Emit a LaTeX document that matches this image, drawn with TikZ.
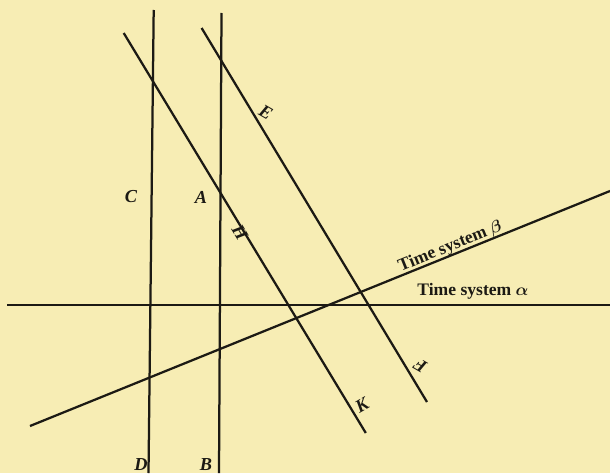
\documentclass[tikz,border=0pt]{standalone}
\usepackage{fontspec}
\setmainfont{Liberation Serif}
\usepackage{tikz}
\usetikzlibrary{positioning}
\definecolor{paper}{HTML}{F7EDB4}
\definecolor{ink}{HTML}{1C1A14}
\tikzset{
  worldline/.style={ink,line width=1.6pt},
  letter/.style={font=\fontsize{13}{15}\selectfont\bfseries\itshape,text=ink,inner sep=1pt},
  systemlabel/.style={font=\fontsize{12.5}{15}\selectfont\bfseries\boldmath,text=ink,inner sep=1pt}
}

\begin{document}
\begin{tikzpicture}[x=0.025cm,y=-0.025cm]
  \fill[paper] (0,0) rectangle (610,473);
  \useasboundingbox (0,0) rectangle (610,473);
  % end points of the lines
  \coordinate (Ctop) at (153.7,10);
  \coordinate (Dbot) at (148.5,473);
  \coordinate (Atop) at (221.5,13);
  \coordinate (Bbot) at (219,473);
  \coordinate (Htop) at (123.7,33);
  \coordinate (Kbot) at (365.8,433);
  \coordinate (Etop) at (201.6,28);
  \coordinate (Fbot) at (427,402);
  \coordinate (alphaL) at (7,305);
  \coordinate (alphaR) at (610,305);
  \coordinate (betaL) at (30,426);
  \coordinate (betaR) at (610,191);
  \draw[worldline] (Ctop) -- (Dbot);
  \draw[worldline] (Atop) -- (Bbot);
  \draw[worldline] (Htop) -- (Kbot);
  \draw[worldline] (Etop) -- (Fbot);
  \draw[worldline] (alphaL) -- (alphaR);
  \draw[worldline] (betaL) -- (betaR);
  % letters
  \node[letter] (C) at (131,197) {C};
  \node[letter] (A) at (201,197) {A};
  \node[letter] (D) at (141,465) {D};
  \node[letter] (B) at (206,465) {B};
  \node[letter,rotate=-59] (H) at (240,233) {H};
  \node[letter,rotate=-30] (E) at (266,112) {E};
  \node[letter,rotate=150] (F) at (420,366) {F};
  \node[letter,rotate=30] (K) at (362,405) {K};
  \node[systemlabel,rotate=22,anchor=south] (beta) at (454,256) {Time system $\beta$};
  \node[systemlabel] (alpha) at (473,291) {Time system $\alpha$};
\end{tikzpicture}
\end{document}
